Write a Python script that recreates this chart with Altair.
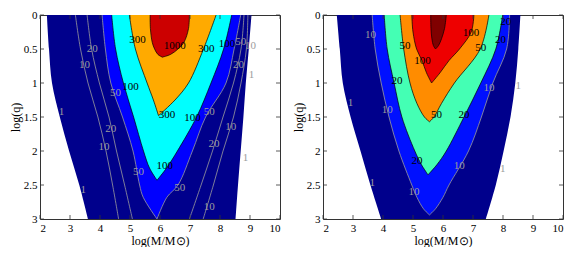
import altair as alt
import pandas as pd

# ---------------- Left panel: filled regions (log q, left/right edge in log M) ----------------
A_navy_q = [0, 0.5, 1, 1.5, 2, 2.5, 3]
A_navy_l = [2.23, 2.30, 2.40, 2.66, 2.97, 3.31, 3.60]
A_navy_r = [9.05, 8.96, 8.86, 8.78, 8.69, 8.60, 8.52]
A_blue_q = [0, 0.5, 1, 1.5, 2, 2.5, 2.68, 3.0]
A_blue_l = [4.07, 4.18, 4.36, 4.75, 5.10, 5.32, 5.44, 5.90]
A_blue_r = [8.69, 8.47, 8.20, 7.52, 7.08, 6.60, 6.23, 5.90]
A_cyan_q = [0, 0.5, 1, 1.5, 2, 2.25, 2.43]
A_cyan_l = [4.39, 4.52, 4.78, 5.12, 5.45, 5.65, 5.90]
A_cyan_r = [8.39, 8.12, 7.70, 7.22, 6.58, 6.22, 5.90]
A_orng_q = [0, 0.5, 1, 1.25, 1.48]
A_orng_l = [4.98, 5.18, 5.57, 5.78, 5.95]
A_orng_r = [7.87, 7.45, 6.95, 6.50, 5.95]
A_red_q = [0, 0.2, 0.4, 0.5, 0.58, 0.62]
A_red_l = [5.67, 5.68, 5.74, 5.82, 5.93, 6.08]
A_red_r = [6.98, 6.95, 6.80, 6.60, 6.35, 6.08]
# grey contour lines 10 and 20
A_line_q = [0, 0.5, 1, 1.5, 2, 2.5, 3]
A_l10_l = [3.18, 3.35, 3.60, 3.93, 4.20, 4.42, 4.62]
A_l10_r = [8.93, 8.88, 8.70, 8.45, 8.10, 7.78, 7.44]
A_l20_l = [3.57, 3.72, 3.98, 4.30, 4.55, 4.82, 5.08]
A_l20_r = [8.80, 8.70, 8.45, 8.10, 7.75, 7.37, 6.98]
# labels
A_blk_txt = ["300", "100", "1000", "300", "100", "300", "100", "100"]
A_blk_v = [5.25, 5.02, 6.49, 7.54, 8.23, 6.23, 7.08, 6.16]
A_blk_q = [0.37, 1.06, 0.46, 0.50, 0.43, 1.47, 1.52, 2.22]
A_gry_txt = ["20", "10", "50", "1", "20", "10", "50", "1", "50", "10", "20", "1", "50", "10", "20", "1", "50", "10"]
A_gry_v = [3.74, 3.48, 4.52, 2.72, 4.36, 4.13, 5.28, 3.44, 8.69, 9.02, 8.62, 9.05, 7.64, 8.36, 7.80, 8.85, 6.66, 7.64]
A_gry_q = [0.50, 0.74, 1.14, 1.43, 1.68, 1.94, 2.31, 2.58, 0.39, 0.45, 0.74, 0.88, 1.43, 1.65, 1.90, 2.10, 2.54, 2.83]

# ---------------- Right panel ----------------
B_navy_q = [0, 0.5, 1, 1.5, 2, 2.5, 3]
B_navy_l = [2.46, 2.56, 2.66, 2.92, 3.25, 3.58, 3.94]
B_navy_r = [8.58, 8.51, 8.41, 8.25, 8.02, 7.76, 7.43]
B_blue_q = [0, 0.5, 1, 1.5, 2, 2.5, 2.68, 2.85, 2.94]
B_blue_l = [3.64, 3.74, 3.94, 4.20, 4.53, 4.96, 5.13, 5.35, 5.55]
B_blue_r = [8.22, 8.12, 7.66, 7.28, 6.85, 6.20, 6.00, 5.75, 5.55]
B_mint_q = [0, 0.5, 1, 1.5, 2, 2.2, 2.35]
B_mint_l = [4.04, 4.14, 4.37, 4.63, 5.06, 5.28, 5.50]
B_mint_r = [7.99, 7.76, 7.26, 6.70, 6.11, 5.80, 5.50]
B_orng_q = [0, 0.5, 1, 1.3, 1.5, 1.57]
B_orng_l = [4.57, 4.69, 4.90, 5.13, 5.38, 5.55]
B_orng_r = [7.53, 7.24, 6.38, 5.95, 5.70, 5.55]
B_red_q = [0, 0.25, 0.5, 0.67, 0.85, 1.0]
B_red_l = [4.96, 5.00, 5.12, 5.30, 5.45, 5.62]
B_red_r = [7.03, 6.94, 6.55, 6.20, 5.90, 5.62]
B_dred_q = [0, 0.2, 0.35, 0.45, 0.5]
B_dred_l = [5.59, 5.60, 5.63, 5.68, 5.75]
B_dred_r = [6.11, 6.05, 5.95, 5.85, 5.75]
B_blk_txt = ["50", "100", "20", "20", "100", "50", "20", "20", "50", "20"]
B_blk_v = [4.73, 5.32, 4.47, 5.13, 6.93, 7.26, 8.09, 7.92, 5.78, 6.70]
B_blk_q = [0.46, 0.67, 0.97, 2.15, 0.27, 0.48, 0.11, 0.37, 1.47, 1.47]
B_gry_txt = ["10", "10", "10", "1", "1", "10", "1", "10", "1"]
B_gry_v = [3.58, 4.14, 5.03, 2.92, 3.64, 7.53, 8.51, 6.54, 7.99]
B_gry_q = [0.30, 1.40, 2.60, 1.29, 2.47, 1.08, 1.04, 2.22, 2.26]

# axis ticks
x_ticks = [2, 3, 4, 5, 6, 7, 8, 9, 10]
y_ticks = [0, 0.5, 1, 1.5, 2, 2.5, 3]

W, H = 240, 204
FONT = "Liberation Serif"
GREY = "#9c9c9c"

XS = alt.Scale(domain=[2, 10], nice=False, zero=False)
YS = alt.Scale(domain=[0, 3], nice=False, zero=False, reverse=True)
XA = alt.Axis(title="log(M/M\u2299)", values=x_ticks, format="d", ticks=False, domain=False,
              grid=False, labelFont=FONT, labelFontSize=11, labelPadding=3, labelColor="black",
              titleFont=FONT, titleFontSize=12, titleFontWeight="normal", titlePadding=2,
              titleColor="black")
YA = alt.Axis(title="log(q)", values=y_ticks, format=".1~f", ticks=False, domain=False,
              grid=False, labelFont=FONT, labelFontSize=11, labelPadding=3, labelColor="black",
              titleFont=FONT, titleFontSize=12, titleFontWeight="normal", titlePadding=1,
              titleColor="black")


def area(q, l, r, color):
    df = pd.DataFrame({"q": q, "l": l, "r": r})
    return alt.Chart(df).mark_area(orient="horizontal", interpolate="catmull-rom",
                                   color=color, clip=True, strokeWidth=0).encode(
        y=alt.Y("q:Q", scale=YS, axis=YA),
        x=alt.X("l:Q", scale=XS, axis=XA),
        x2="r:Q",
    )


def lines(segments, color, width):
    rows = []
    for i, (q, v) in enumerate(segments):
        for qq, vv in zip(q, v):
            rows.append({"q": qq, "v": vv, "seg": i})
    df = pd.DataFrame(rows)
    return alt.Chart(df).mark_line(interpolate="catmull-rom", color=color, strokeWidth=width,
                                   clip=True).encode(
        y=alt.Y("q:Q", scale=YS, axis=YA),
        x=alt.X("v:Q", scale=XS, axis=XA),
        detail="seg:N",
        order="q:Q",
    )


def texts(txt, v, q, color):
    df = pd.DataFrame({"t": txt, "v": v, "q": q})
    return alt.Chart(df).mark_text(font=FONT, fontSize=11, color=color, clip=True).encode(
        y=alt.Y("q:Q", scale=YS, axis=YA),
        x=alt.X("v:Q", scale=XS, axis=XA),
        text="t:N",
    )


def ticks():
    ydf = pd.DataFrame({"t": y_ticks})
    xdf = pd.DataFrame({"t": x_ticks})
    k = 4
    yl = alt.Chart(ydf).mark_rule(color="#333", strokeWidth=0.8).encode(
        y=alt.Y("t:Q", scale=YS, axis=YA), x=alt.value(0), x2=alt.value(k))
    yr = alt.Chart(ydf).mark_rule(color="#333", strokeWidth=0.8).encode(
        y=alt.Y("t:Q", scale=YS, axis=YA), x=alt.value(W - k), x2=alt.value(W))
    xb = alt.Chart(xdf).mark_rule(color="#333", strokeWidth=0.8).encode(
        x=alt.X("t:Q", scale=XS, axis=XA), y=alt.value(H - k), y2=alt.value(H))
    xt = alt.Chart(xdf).mark_rule(color="#333", strokeWidth=0.8).encode(
        x=alt.X("t:Q", scale=XS, axis=XA), y=alt.value(0), y2=alt.value(k))
    return [yl, yr, xb, xt]


def both(q, l, r):
    return [(q, l), (q, r)]


left = alt.layer(
    area(A_navy_q, A_navy_l, A_navy_r, "#00008C"),
    area(A_blue_q, A_blue_l, A_blue_r, "#0000FF"),
    area(A_cyan_q, A_cyan_l, A_cyan_r, "#00FFFF"),
    area(A_orng_q, A_orng_l, A_orng_r, "#FFAA00"),
    area(A_red_q, A_red_l, A_red_r, "#CC0000"),
    lines(both(A_line_q, A_l10_l, A_l10_r) + both(A_line_q, A_l20_l, A_l20_r)
          + both(A_blue_q, A_blue_l, A_blue_r), GREY, 0.8),
    lines(both(A_cyan_q, A_cyan_l, A_cyan_r) + both(A_orng_q, A_orng_l, A_orng_r)
          + both(A_red_q, A_red_l, A_red_r), "black", 0.7),
    texts(A_gry_txt, A_gry_v, A_gry_q, GREY),
    texts(A_blk_txt, A_blk_v, A_blk_q, "black"),
    *ticks(),
).properties(width=W, height=H)

right = alt.layer(
    area(B_navy_q, B_navy_l, B_navy_r, "#00008C"),
    area(B_blue_q, B_blue_l, B_blue_r, "#0010FF"),
    area(B_mint_q, B_mint_l, B_mint_r, "#44FFB4"),
    area(B_orng_q, B_orng_l, B_orng_r, "#FF8C00"),
    area(B_red_q, B_red_l, B_red_r, "#EE0000"),
    area(B_dred_q, B_dred_l, B_dred_r, "#800000"),
    lines(both(B_blue_q, B_blue_l, B_blue_r), GREY, 0.8),
    lines(both(B_mint_q, B_mint_l, B_mint_r) + both(B_orng_q, B_orng_l, B_orng_r)
          + both(B_red_q, B_red_l, B_red_r) + both(B_dred_q, B_dred_l, B_dred_r), "black", 0.7),
    texts(B_gry_txt, B_gry_v, B_gry_q, GREY),
    texts(B_blk_txt, B_blk_v, B_blk_q, "black"),
    *ticks(),
).properties(width=W, height=H)

chart = alt.hconcat(left, right, spacing=10).properties(padding=0).configure_view(
    stroke="#333", strokeWidth=1)

chart.save("out.html", embed_options={"renderer": "svg", "actions": False})
